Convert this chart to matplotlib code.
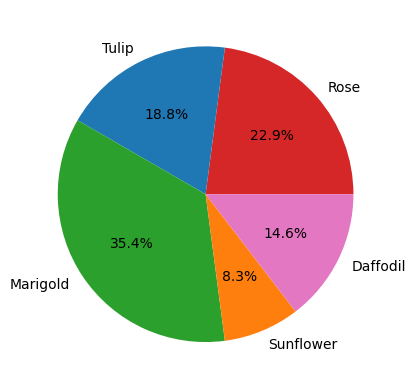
import matplotlib
matplotlib.use('Agg')
import matplotlib.pyplot as plt

# flower counts (shares, x/48)
flowers = ['Rose', 'Tulip', 'Marigold', 'Sunflower', 'Daffodil']
counts = [11, 9, 17, 4, 7]
colors = ['tab:red', 'tab:blue', 'tab:green', 'tab:orange', 'tab:pink']

fig, ax = plt.subplots()
ax.pie(counts, labels=flowers, colors=colors, autopct='%1.1f%%')

plt.savefig('out.png', bbox_inches='tight')
